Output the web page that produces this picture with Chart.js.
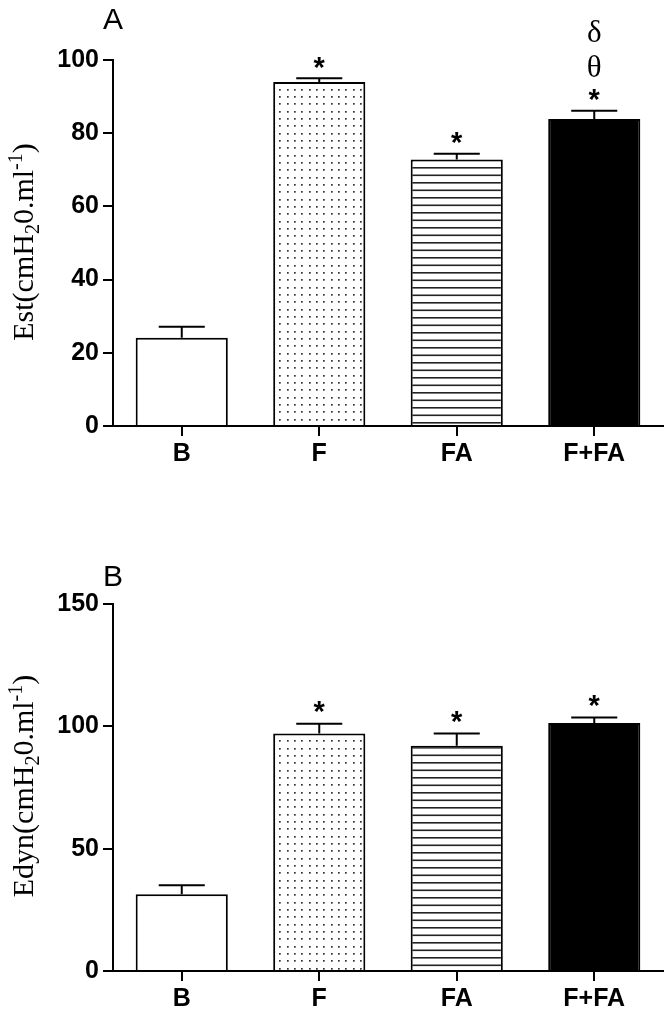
<!DOCTYPE html>
<html>
<head>
<meta charset="utf-8">
<script src="https://cdn.jsdelivr.net/npm/chart.js@4/dist/chart.umd.min.js"></script>
<style>
  html, body { margin: 0; padding: 0; background: #fff; }
  #wrap { position: relative; width: 666px; height: 1011px; overflow: hidden; }
  .cv { position: absolute; left: 0; }
</style>
</head>
<body>
<div id="wrap">
  <div class="cv" style="top:0;width:666px;height:505px;"><canvas id="cA"></canvas></div>
  <div class="cv" style="top:505px;width:666px;height:506px;"><canvas id="cB"></canvas></div>
</div>
<script>
// ---- data ----
const categories = ['B', 'F', 'FA', 'F+FA'];
const estMean = [24.1, 94.0, 72.8, 83.9];
const estSem = [3.0, 1.0, 1.6, 2.2];
const estTicks = [0, 20, 40, 60, 80, 100];
const estMarks = [[], ['*'], ['*'], ['*', 'θ', 'δ']];
const edynMean = [31.4, 97.1, 92.1, 101.4];
const edynSem = [3.6, 4.0, 5.0, 2.2];
const edynTicks = [0, 50, 100, 150];
const edynMarks = [[], ['*'], ['*'], ['*']];
const panelA = 'A';
const panelB = 'B';
const titleA = [['Est(cmH', 0], ['2', -1], ['0.ml', 0], ['-1', 1], [')', 0]];
const titleB = [['Edyn(cmH', 0], ['2', -1], ['0.ml', 0], ['-1', 1], [')', 0]];

// ---- patterns ----
function dotPattern() {
  const c = document.createElement('canvas');
  c.width = 22; c.height = 22;
  const g = c.getContext('2d');
  g.fillStyle = '#fff'; g.fillRect(0, 0, 22, 22);
  g.fillStyle = '#333';
  const p = [1, 8, 15];
  for (const x of p) for (const y of p) g.fillRect(x, y, 1.7, 1.7);
  return g.createPattern(c, 'repeat');
}
function linePattern() {
  const c = document.createElement('canvas');
  c.width = 4; c.height = 15;
  const g = c.getContext('2d');
  g.fillStyle = '#fff'; g.fillRect(0, 0, 4, 15);
  g.fillStyle = '#222';
  g.fillRect(0, 2, 4, 1.6);
  g.fillRect(0, 9.5, 4, 1.6);
  return g.createPattern(c, 'repeat');
}

const errPlugin = {
  id: 'errs',
  afterDatasetsDraw(chart, args, opts) {
    const ctx = chart.ctx;
    const meta = chart.getDatasetMeta(0);
    const ys = chart.scales.y;
    ctx.save();
    ctx.strokeStyle = '#000';
    ctx.lineWidth = 2;
    meta.data.forEach((bar, i) => {
      const top = ys.getPixelForValue(opts.mean[i]);
      const et = ys.getPixelForValue(opts.mean[i] + opts.sem[i]);
      const half = bar.width / 4;
      ctx.beginPath();
      ctx.moveTo(bar.x, top);
      ctx.lineTo(bar.x, et);
      ctx.moveTo(bar.x - half, et);
      ctx.lineTo(bar.x + half, et);
      ctx.stroke();
      // marks
      const marks = opts.marks[i];
      ctx.fillStyle = '#000';
      ctx.textAlign = 'center';
      ctx.textBaseline = 'alphabetic';
      marks.forEach((m, k) => {
        if (m === '*') {
          ctx.font = 'bold 29px "Liberation Sans", Arial, sans-serif';
          const cy = et - opts.starGap;
          ctx.fillText(m, bar.x, cy + 16.5);
        } else {
          ctx.font = '31px "Liberation Serif", "Times New Roman", serif';
          const cy = et - opts.starGap - 26 - (k - 1) * 35;
          ctx.fillText(m, bar.x, cy + 10);
        }
      });
    });
    // panel letter
    ctx.font = '30px "Liberation Sans", Arial, sans-serif';
    ctx.textAlign = 'left';
    ctx.fillText(opts.panel, opts.panelX, opts.panelY);
    // axis title
    ctx.translate(opts.titleX, opts.titleY);
    ctx.rotate(-Math.PI / 2);
    const big = 30, small = 20;
    const segs = opts.title;
    let total = 0;
    const widths = segs.map(([t, s]) => {
      ctx.font = (s === 0 ? big : small) + 'px "Liberation Serif", "Times New Roman", serif';
      const w = ctx.measureText(t).width;
      total += w;
      return w;
    });
    let x = -total / 2;
    segs.forEach(([t, s], i) => {
      ctx.font = (s === 0 ? big : small) + 'px "Liberation Serif", "Times New Roman", serif';
      const dy = s === -1 ? 6 : (s === 1 ? -11 : 0);
      ctx.fillText(t, x, dy);
      x += widths[i];
    });
    ctx.restore();
  }
};

function makeChart(id, mean, sem, ticks, marks, yAxisWidth, xAxisHeight, padTop, panel, panelY, title, titleY, starGap) {
  const fills = ['#ffffff', dotPattern(), linePattern(), '#000000'];
  return new Chart(document.getElementById(id), {
    type: 'bar',
    data: {
      labels: categories,
      datasets: [{
        data: mean,
        backgroundColor: fills,
        borderColor: '#000',
        borderWidth: 2,
        borderSkipped: 'bottom',
        barPercentage: 0.67,
        categoryPercentage: 1.0
      }]
    },
    options: {
      responsive: true,
      maintainAspectRatio: false,
      animation: false,
      events: [],
      layout: { padding: { top: padTop, right: 3, left: 0, bottom: 0 } },
      plugins: {
        legend: { display: false },
        tooltip: { enabled: false },
        errs: { mean: mean, sem: sem, marks: marks, panel: panel, panelX: 103, panelY: panelY,
                title: title, titleX: 33, titleY: titleY, starGap: starGap }
      },
      scales: {
        x: {
          grid: { display: true, drawOnChartArea: false, drawTicks: true, tickLength: 10, color: '#000', lineWidth: 2, offset: false },
          border: { display: true, color: '#000', width: 2 },
          ticks: { color: '#000', padding: 3, font: { family: '"Liberation Sans", Arial, sans-serif', size: 25, weight: 'bold' } },
          afterFit(s) { s.height = xAxisHeight; }
        },
        y: {
          min: ticks[0],
          max: ticks[ticks.length - 1],
          afterBuildTicks(s) { s.ticks = ticks.map(v => ({ value: v })); },
          grid: { display: true, drawOnChartArea: false, drawTicks: true, tickLength: 10, color: '#000', lineWidth: 2 },
          border: { display: true, color: '#000', width: 2 },
          ticks: { color: '#000', padding: 4, font: { family: '"Liberation Sans", Arial, sans-serif', size: 25, weight: 'bold' } },
          afterFit(s) { s.width = yAxisWidth; }
        }
      }
    },
    plugins: [errPlugin]
  });
}

makeChart('cA', estMean, estSem, estTicks, estMarks, 113, 79, 60, panelA, 29, titleA, 242, 18);
makeChart('cB', edynMean, edynSem, edynTicks, edynMarks, 113, 40, 99, panelB, 81, titleB, 281, 19);
</script>
</body>
</html>
